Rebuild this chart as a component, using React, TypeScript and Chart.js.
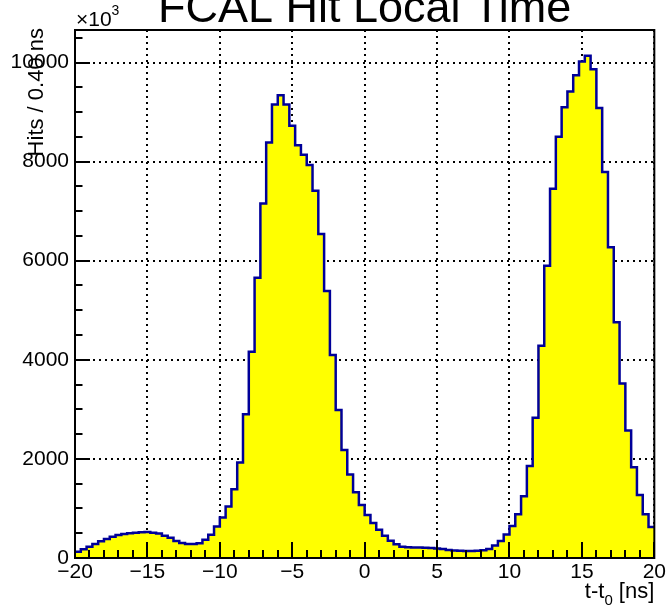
import React, { useEffect, useRef } from "react";
import { Chart, registerables } from "chart.js";

Chart.register(...registerables);

// ---- data ----
const X_MIN = -20;
const X_MAX = 20;
const BIN_WIDTH = 0.4;
const Y_MAX = 10656;

// hits per 0.4 ns bin, 100 bins from -20 to 20 ns
const hits = [
  128, 175, 229, 283, 337, 384, 431, 465, 485, 498,
  512, 519, 525, 512, 492, 451, 411, 343, 303, 283,
  283, 296, 367, 468, 636, 817, 1038, 1388, 1926, 2900,
  4165, 5657, 7155, 8386, 9152, 9340, 9152, 8722, 8332, 8137,
  7929, 7411, 6537, 5387, 4097, 2988, 2182, 1684, 1328, 1072,
  870, 705, 568, 447, 346, 279, 229, 218, 214, 212,
  208, 204, 192, 180, 160, 150, 145, 142, 142, 145,
  155, 180, 250, 344, 472, 648, 884, 1247, 1855, 2831,
  4284, 5899, 7453, 8500, 9095, 9413, 9744, 10021, 10136, 9865,
  9081, 7791, 6271, 4757, 3520, 2574, 1831, 1270, 885, 628,
];

const xMajorTicks = [-20, -15, -10, -5, 0, 5, 10, 15, 20];
const xMinorStep = 1;
const yMajorTicks = [0, 2000, 4000, 6000, 8000, 10000];
const yMinorStep = 500;

const titleText = "FCAL Hit Local Time";
const yTitle = "Hits / 0.40 ns";
const xTitleMain = "t-t";
const xTitleSub = "0";
const xTitleUnit = " [ns]";

const FONT = "'Liberation Sans', Arial, Helvetica, sans-serif";

function buildPoints() {
  const pts: { x: number; y: number }[] = [];
  for (let i = 0; i < hits.length; i++) {
    pts.push({ x: X_MIN + i * BIN_WIDTH, y: hits[i] });
  }
  pts.push({ x: X_MAX, y: hits[hits.length - 1] });
  return pts;
}

const rootPlugin = {
  id: "rootStyle",
  afterDatasetsDraw(chart: any) {
    const { ctx, chartArea: a } = chart;
    const xs = chart.scales.x;
    const ys = chart.scales.y;
    ctx.save();
    ctx.strokeStyle = "#000";
    ctx.lineWidth = 2;
    ctx.beginPath();
    for (let v = X_MIN; v <= X_MAX + 1e-9; v += xMinorStep) {
      const px = Math.round(xs.getPixelForValue(v));
      const len = xMajorTicks.includes(v) ? 16 : 8;
      ctx.moveTo(px, a.bottom);
      ctx.lineTo(px, a.bottom - len);
    }
    for (let v = 0; v <= Y_MAX; v += yMinorStep) {
      const py = Math.round(ys.getPixelForValue(v));
      const len = yMajorTicks.includes(v) ? 15 : 7.5;
      ctx.moveTo(a.left, py);
      ctx.lineTo(a.left + len, py);
    }
    ctx.stroke();
    ctx.strokeRect(a.left, a.top, a.right - a.left, a.bottom - a.top);
    ctx.restore();
  },
  afterDraw(chart: any) {
    const { ctx, chartArea: a } = chart;
    ctx.save();
    ctx.fillStyle = "#000";
    // title
    ctx.font = `45px ${FONT}`;
    ctx.textAlign = "center";
    ctx.textBaseline = "alphabetic";
    ctx.fillText(titleText, (a.left + a.right) / 2, 22);
    // x10^3
    ctx.textAlign = "left";
    ctx.font = `21px ${FONT}`;
    ctx.fillText("\u00d710", 76, 26);
    const w10 = ctx.measureText("\u00d710").width;
    ctx.font = `14px ${FONT}`;
    ctx.fillText("3", 76 + w10, 15);
    // x title (right aligned)
    ctx.font = `22px ${FONT}`;
    const wUnit = ctx.measureText(xTitleUnit).width;
    const wMain = ctx.measureText(xTitleMain).width;
    ctx.font = `15px ${FONT}`;
    const wSub = ctx.measureText(xTitleSub).width;
    let xr = a.right;
    ctx.font = `22px ${FONT}`;
    ctx.fillText(xTitleUnit, xr - wUnit, 598);
    xr -= wUnit;
    ctx.font = `15px ${FONT}`;
    ctx.fillText(xTitleSub, xr - wSub, 605);
    xr -= wSub;
    ctx.font = `22px ${FONT}`;
    ctx.fillText(xTitleMain, xr - wMain, 598);
    // y title
    ctx.translate(43, 28);
    ctx.rotate(-Math.PI / 2);
    ctx.textAlign = "right";
    ctx.font = `22px ${FONT}`;
    ctx.fillText(yTitle, 0, 0);
    ctx.restore();
  },
};

export default function App() {
  const ref = useRef<HTMLCanvasElement | null>(null);
  useEffect(() => {
    if (!ref.current) return;
    const chart = new Chart(ref.current, {
      type: "line",
      data: {
        datasets: [
          {
            data: buildPoints(),
            stepped: "before",
            borderColor: "#000099",
            borderWidth: 2.5,
            backgroundColor: "#ffff00",
            fill: "origin",
            pointRadius: 0,
            tension: 0,
          },
        ],
      },
      options: {
        animation: false,
        responsive: false,
        devicePixelRatio: 1,
        layout: { padding: { left: 0, top: 30, right: 12, bottom: 0 } },
        plugins: {
          legend: { display: false },
          title: { display: false },
          tooltip: { enabled: false },
        },
        scales: {
          x: {
            type: "linear",
            min: X_MIN,
            max: X_MAX,
            afterFit: (s: any) => {
              s.height = 51;
            },
            afterBuildTicks: (s: any) => {
              s.ticks = xMajorTicks.map((v) => ({ value: v }));
            },
            ticks: {
              color: "#000",
              font: { family: FONT, size: 21 },
              padding: 2,
              maxRotation: 0,
              minRotation: 0,
              autoSkip: false,
              includeBounds: false,
              callback: (v: any) => (Number(v) < 0 ? "\u2212" + Math.abs(Number(v)) : String(v)),
            },
            grid: { color: "#000", lineWidth: 2, drawTicks: false },
            border: { display: false, dash: [2, 4] },
          },
          y: {
            type: "linear",
            min: 0,
            max: Y_MAX,
            afterFit: (s: any) => {
              s.width = 75;
            },
            afterBuildTicks: (s: any) => {
              s.ticks = yMajorTicks.map((v) => ({ value: v }));
            },
            ticks: {
              color: "#000",
              font: { family: FONT, size: 21 },
              padding: 6,
              autoSkip: false,
              includeBounds: false,
              callback: (v: any) => String(v),
            },
            grid: { color: "#000", lineWidth: 2, drawTicks: false },
            border: { display: false, dash: [2, 4] },
          },
        },
      },
      plugins: [rootPlugin],
    });
    return () => chart.destroy();
  }, []);
  return (
    <div style={{ position: "absolute", left: 0, top: 0, width: 668, height: 609, background: "#fff" }}>
      <canvas ref={ref} width={668} height={609} style={{ display: "block" }} />
    </div>
  );
}
